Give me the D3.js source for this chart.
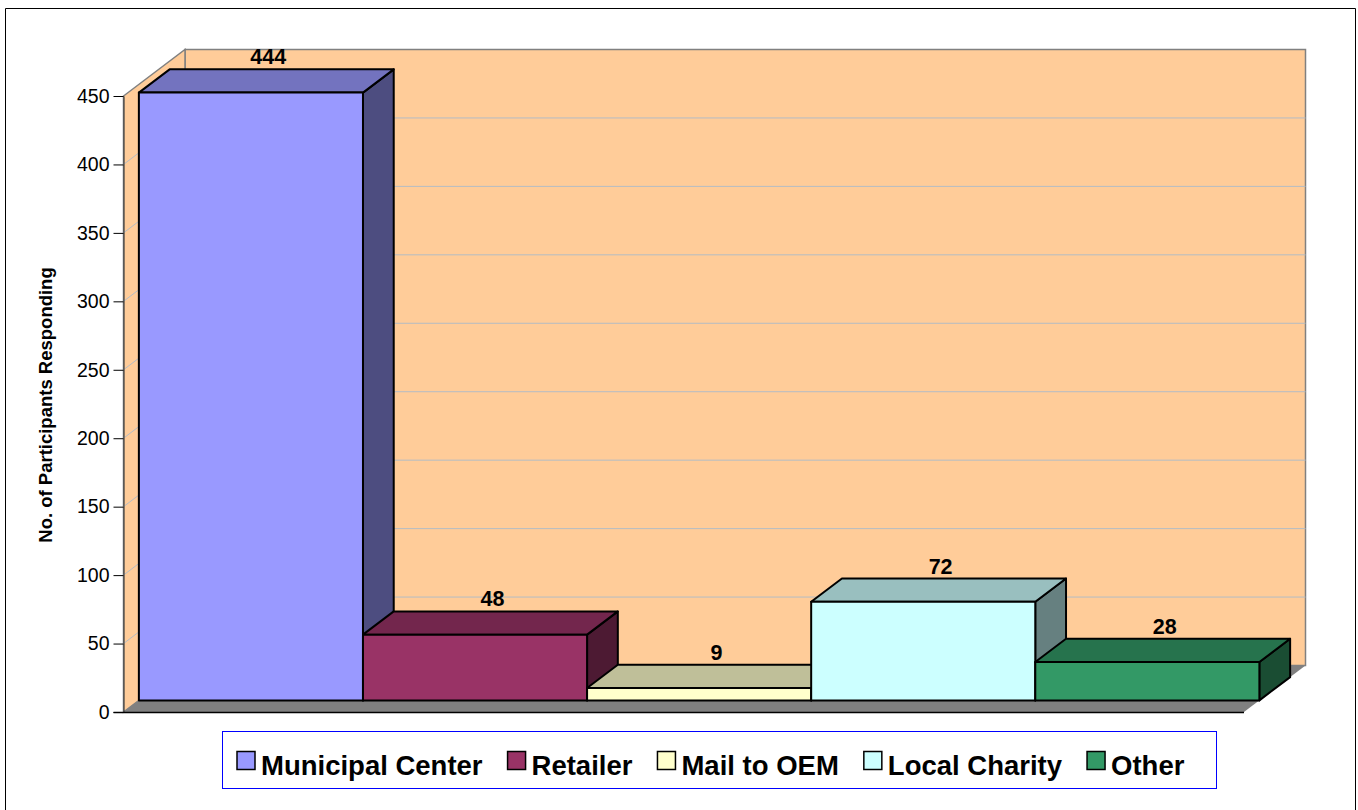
<!DOCTYPE html>
<html lang="en">
<head>
    <style>
        body { margin: 0; background: #fff; }
        svg { display: block; }
        text { font-family: "Liberation Sans", Arial, sans-serif; fill: #000; }
    </style>
</head>
<body>
    <svg width="1358" height="810"></svg>
    <script src="https://cdn.jsdelivr.net/npm/d3@7"></script>
    <script>
        // Data
        const categories = ["Municipal Center", "Retailer", "Mail to OEM", "Local Charity", "Other"];
        const values = [444, 48, 9, 72, 28];
        const colors = ["#9999FF", "#993366", "#FFFFCC", "#CCFFFF", "#339966"];
        const yTicks = [0, 50, 100, 150, 200, 250, 300, 350, 400, 450];

        const svg = d3.select("svg");

        // Front plane of the plot box
        const plotLeft = 123.5, plotRight = 1244, plotBottom = 712, plotTop = 96;
        // Full depth of the box, bars take the middle half of it
        const depthX = 61.5, depthY = 46.5;
        const barDX = depthX / 2, barDY = depthY / 2;
        const barOffX = depthX / 4, barOffY = depthY / 4;

        const xScale = d3.scaleBand().domain(categories).range([plotLeft + barOffX, plotRight + barOffX]);
        const yScale = d3.scaleLinear().domain([0, 450]).range([plotBottom, plotTop]);
        const shade = (c, k) => {
            const rgb = d3.rgb(c);
            return d3.rgb(rgb.r * k, rgb.g * k, rgb.b * k).formatHex();
        };
        const poly = pts => pts.map(p => p.join(",")).join(" ");

        // Outer frame
        svg.append("path")
            .attr("d", "M5.5,815V8.5H1355.5V815")
            .attr("fill", "none")
            .attr("stroke", "#000");

        /************************************************************************************
        * Walls and floor
        ************************************************************************************/
        const box = svg.append("g");
        box.append("polygon")
            .attr("points", poly([[plotLeft + depthX, plotTop - depthY], [plotRight + depthX, plotTop - depthY], [plotRight + depthX, plotBottom - depthY], [plotLeft + depthX, plotBottom - depthY]]))
            .attr("fill", "#FFCC99").attr("stroke", "#808080").attr("stroke-width", 1.5);
        box.append("polygon")
            .attr("points", poly([[plotLeft, plotBottom], [plotLeft, plotTop], [plotLeft + depthX, plotTop - depthY], [plotLeft + depthX, plotBottom - depthY]]))
            .attr("fill", "#FFCC99").attr("stroke", "#808080").attr("stroke-width", 1.5);

        // Grid lines along the side wall and back wall
        box.selectAll(".grid").data(yTicks.slice(1, -1)).enter().append("path")
            .attr("class", "grid")
            .attr("d", d => `M${plotLeft},${yScale(d)}L${plotLeft + depthX},${yScale(d) - depthY}H${plotRight + depthX}`)
            .attr("fill", "none")
            .attr("stroke", "#B4BCC4")
            .attr("stroke-width", 1);

        box.append("polygon")
            .attr("points", poly([[plotLeft, plotBottom], [plotRight, plotBottom], [plotRight + depthX, plotBottom - depthY], [plotLeft + depthX, plotBottom - depthY]]))
            .attr("fill", "#808080");

        /************************************************************************************
        * Bars, drawn left to right so each one covers the side of the previous
        ************************************************************************************/
        const baseY = plotBottom - barOffY;
        const barY = v => yScale(v) - barOffY;
        const bars = svg.selectAll(".bar").data(categories).enter().append("g")
            .attr("class", "bar")
            .attr("stroke", "#000")
            .attr("stroke-width", 2)
            .attr("stroke-linejoin", "round");

        bars.append("polygon")
            .attr("points", (d, i) => {
                const x0 = xScale(d), x1 = x0 + xScale.bandwidth(), y = barY(values[i]);
                return poly([[x1, baseY], [x1 + barDX, baseY - barDY], [x1 + barDX, y - barDY], [x1, y]]);
            })
            .attr("fill", (d, i) => shade(colors[i], 0.5));
        bars.append("polygon")
            .attr("points", (d, i) => {
                const x0 = xScale(d), x1 = x0 + xScale.bandwidth(), y = barY(values[i]);
                return poly([[x0, y], [x0 + barDX, y - barDY], [x1 + barDX, y - barDY], [x1, y]]);
            })
            .attr("fill", (d, i) => shade(colors[i], 0.75));
        bars.append("rect")
            .attr("x", d => xScale(d))
            .attr("y", (d, i) => barY(values[i]))
            .attr("width", xScale.bandwidth())
            .attr("height", (d, i) => baseY - barY(values[i]))
            .attr("fill", (d, i) => colors[i]);

        // Value labels
        svg.selectAll(".value").data(categories).enter().append("text")
            .attr("class", "value")
            .attr("x", d => xScale(d) + xScale.bandwidth() / 2 + barDX / 2 + 2)
            .attr("y", (d, i) => barY(values[i]) - barDY - 5)
            .attr("text-anchor", "middle")
            .style("font-size", "21.5px")
            .style("font-weight", "bold")
            .text((d, i) => values[i]);

        /************************************************************************************
        * Axes
        ************************************************************************************/
        const yAxis = svg.append("g")
            .attr("transform", `translate(${plotLeft}, 0)`)
            .call(d3.axisLeft(yScale).tickValues(yTicks).tickSize(10).tickSizeOuter(0).tickPadding(4));
        yAxis.selectAll("text").style("font-size", "19.5px");
        yAxis.selectAll("line").attr("stroke", "#000");
        yAxis.select(".domain").attr("stroke", "#333");

        svg.append("line")
            .attr("x1", plotLeft - 10).attr("x2", plotRight)
            .attr("y1", plotBottom + 0.5).attr("y2", plotBottom + 0.5)
            .attr("stroke", "#000").attr("stroke-width", 1.5);

        svg.append("text")
            .attr("transform", "translate(52, 405) rotate(-90)")
            .attr("text-anchor", "middle")
            .style("font-size", "18.5px")
            .style("font-weight", "bold")
            .text("No. of Participants Responding");

        /************************************************************************************
        * Legend
        ************************************************************************************/
        svg.append("rect")
            .attr("x", 222.5).attr("y", 731.5).attr("width", 994).attr("height", 57)
            .attr("fill", "#fff").attr("stroke", "#0000FF");

        let legendX = 237;
        categories.forEach((name, i) => {
            svg.append("rect")
                .attr("x", legendX).attr("y", 751.5).attr("width", 18).attr("height", 18)
                .attr("fill", colors[i]).attr("stroke", "#000").attr("stroke-width", 1.5);
            const label = svg.append("text")
                .attr("x", legendX + 24).attr("y", 775)
                .style("font-size", "27.5px")
                .style("font-weight", "bold")
                .text(name);
            legendX += 24 + label.node().getComputedTextLength() + 25;
        });
    </script>
</body>
</html>
